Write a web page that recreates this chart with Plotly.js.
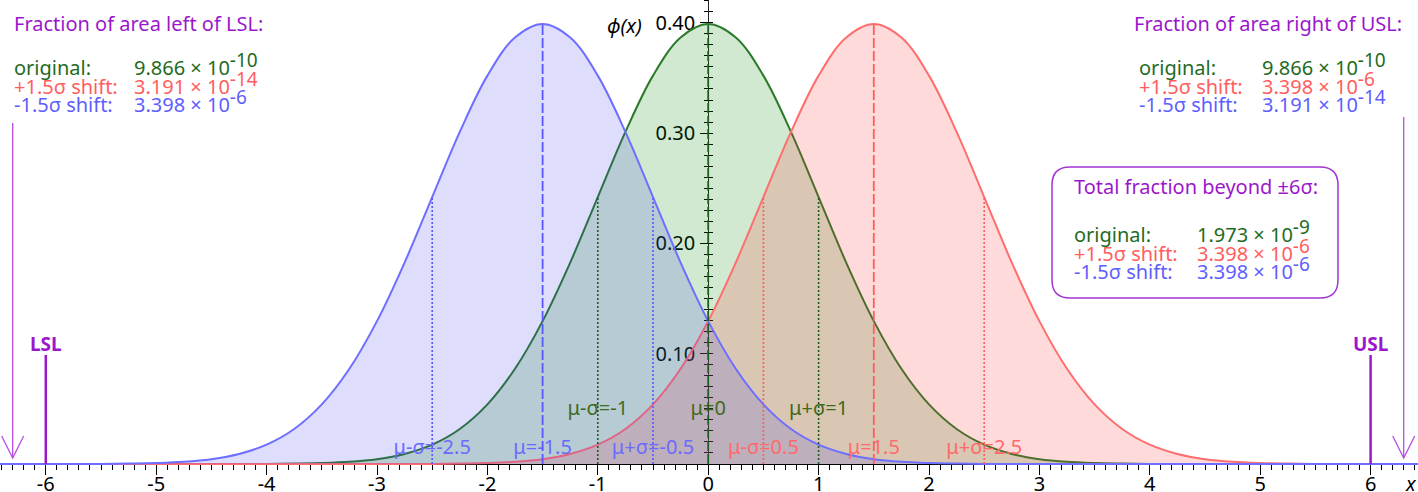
<!DOCTYPE html>
<html><head><meta charset="utf-8">
<script src="https://cdn.plot.ly/plotly-3.0.1.min.js"></script>
<style>html,body{margin:0;padding:0;background:#fff;}#chart{width:1418px;height:492px;}</style>
</head><body><div id="chart"></div>
<script>
// ---------------- data ----------------
const greenX = [-6.5,-4.5,-4.25,-4,-3.75,-3.5,-3.25,-3,-2.75,-2.5,-2.25,-2,-1.75,-1.5,-1.25,-1,-0.75,-0.5,-0.25,0,0.25,0.5,0.75,1,1.25,1.5,1.75,2,2.25,2.5,2.75,3,3.25,3.5,3.75,4,4.25,4.5,6.5];
const greenY = [0,0,0.0001,0.0001,0.0004,0.0009,0.0020,0.0044,0.0091,0.0175,0.0317,0.0540,0.0863,0.1295,0.1826,0.2420,0.3011,0.3521,0.3867,0.3989,0.3867,0.3521,0.3011,0.2420,0.1826,0.1295,0.0863,0.0540,0.0317,0.0175,0.0091,0.0044,0.0020,0.0009,0.0004,0.0001,0.0001,0,0];
const redX = [-6.5,-3,-2.75,-2.5,-2.25,-2,-1.75,-1.5,-1.25,-1,-0.75,-0.5,-0.25,0,0.25,0.5,0.75,1,1.25,1.5,1.75,2,2.25,2.5,2.75,3,3.25,3.5,3.75,4,4.25,4.5,4.75,5,5.25,5.5,5.75,6,6.5];
const redY = [0,0,0.0001,0.0001,0.0004,0.0009,0.0020,0.0044,0.0091,0.0175,0.0317,0.0540,0.0863,0.1295,0.1826,0.2420,0.3011,0.3521,0.3867,0.3989,0.3867,0.3521,0.3011,0.2420,0.1826,0.1295,0.0863,0.0540,0.0317,0.0175,0.0091,0.0044,0.0020,0.0009,0.0004,0.0001,0.0001,0,0];
const blueX = [-6.5,-6,-5.75,-5.5,-5.25,-5,-4.75,-4.5,-4.25,-4,-3.75,-3.5,-3.25,-3,-2.75,-2.5,-2.25,-2,-1.75,-1.5,-1.25,-1,-0.75,-0.5,-0.25,0,0.25,0.5,0.75,1,1.25,1.5,1.75,2,2.25,2.5,2.75,3,6.5];
const blueY = [0,0,0.0001,0.0001,0.0004,0.0009,0.0020,0.0044,0.0091,0.0175,0.0317,0.0540,0.0863,0.1295,0.1826,0.2420,0.3011,0.3521,0.3867,0.3989,0.3867,0.3521,0.3011,0.2420,0.1826,0.1295,0.0863,0.0540,0.0317,0.0175,0.0091,0.0044,0.0020,0.0009,0.0004,0.0001,0.0001,0,0];

const seriesMeans = [0, 1.5, -1.5];          // original, +1.5σ shift, -1.5σ shift
const sigma = 1;
const peakDensity = 0.399;
const sigmaDensity = 0.242;
const specLimits = [-6, 6];                  // LSL, USL
const specNames = ['LSL', 'USL'];

const greenLabels = ['μ-σ=-1', 'μ=0', 'μ+σ=1'];
const redLabels = ['μ-σ=0.5', 'μ=1.5', 'μ+σ=2.5'];
const blueLabels = ['μ-σ=-2.5', 'μ=-1.5', 'μ+σ=-0.5'];

const xTickVals = [-6,-5,-4,-3,-2,-1,0,1,2,3,4,5,6];
const xTickLabels = ['-6','-5','-4','-3','-2','-1','0','1','2','3','4','5','6'];
const yTickVals = [0.1,0.2,0.3,0.4];
const yTickLabels = ['0.10','0.20','0.30','0.40'];

const rowLabels = ['original:', '+1.5σ shift:', '-1.5σ shift:'];
const leftMantissa = ['9.866','3.191','3.398'];
const leftExp = ['-10','-14','-6'];
const rightMantissa = ['9.866','3.398','3.191'];
const rightExp = ['-10','-6','-14'];
const totalMantissa = ['1.973','3.398','3.398'];
const totalExp = ['-9','-6','-6'];

// ---------------- styling ----------------
const FONT = 'Noto Sans, Open Sans, DejaVu Sans, sans-serif';
const GREEN_LINE = '#2b7a2b', RED_LINE = '#ff6e6e', BLUE_LINE = '#6e6eff';
const GREEN_FILL = 'rgba(0,128,0,0.18)', RED_FILL = 'rgba(255,50,50,0.18)', BLUE_FILL = 'rgba(60,60,240,0.17)';
const GREEN_TXT = '#1f6b1f', RED_TXT = '#ff5e5e', BLUE_TXT = '#5e5eff';
const GREEN_LBL = '#3e6a20', RED_LBL = '#ff6a6a', BLUE_LBL = '#6a6aff';
const PURPLE = '#9b17cc', PURPLE_LIGHT = '#b54ee3';
const rowColors = [GREEN_TXT, RED_TXT, BLUE_TXT];

// pixel -> data helpers for layout placement
const PXU = 110.4, X0 = 708.2, PYU = 1103, Y0 = 464;
const dx = px => (px - X0) / PXU;
const dy = py => (Y0 - py) / PYU;

// ---------------- traces ----------------
const traces = [];
function curve(x, y, line, fill) {
  return {x, y, type:'scatter', mode:'lines', fill:'tozeroy', fillcolor:fill,
          line:{color:line, width:2, shape:'spline', smoothing:1}, hoverinfo:'skip'};
}
traces.push(curve(greenX, greenY, GREEN_LINE, GREEN_FILL));
traces.push(curve(redX, redY, RED_LINE, RED_FILL));
traces.push(curve(blueX, blueY, BLUE_LINE, BLUE_FILL));

function labelTrace(mu, labels, color, y) {
  return {x:[mu - sigma, mu, mu + sigma], y:[y, y, y], text:labels, type:'scatter', mode:'text',
          textposition:'middle center', cliponaxis:false,
          textfont:{family:FONT, size:20, color}, hoverinfo:'skip'};
}
traces.push(labelTrace(seriesMeans[2], blueLabels, BLUE_LBL, dy(449)));
traces.push(labelTrace(seriesMeans[1], redLabels, RED_LBL, dy(449)));
traces.push(labelTrace(seriesMeans[0], greenLabels, GREEN_LBL, dy(410)));

function markerLines(mu, color) {
  traces.push({x:[mu - sigma, mu - sigma, null, mu + sigma, mu + sigma], y:[0, sigmaDensity, null, 0, sigmaDensity],
               type:'scatter', mode:'lines', line:{color, width:1.6, dash:'2px,2px'}, hoverinfo:'skip'});
  traces.push({x:[mu, mu], y:[0, peakDensity], type:'scatter', mode:'lines',
               line:{color, width:1.8, dash:'10px,3px'}, hoverinfo:'skip'});
}
markerLines(seriesMeans[2], '#5858ff');
markerLines(seriesMeans[1], '#ff5e5e');
markerLines(seriesMeans[0], '#1e5e1e');
// empty trace to carry the inner-tick overlay axis
traces.push({x:[], y:[], type:'scatter', mode:'lines', yaxis:'y2', hoverinfo:'skip', showlegend:false});

// ---------------- annotations ----------------
const annotations = [];
const DESC = 6;
function txt(px, basePy, text, color, anchor, size, extra) {
  annotations.push(Object.assign({xref:'x', yref:'y', x:dx(px), y:dy(basePy + DESC), xanchor:anchor || 'left',
    yanchor:'bottom', text, showarrow:false, borderpad:0,
    font:{family:FONT, size:size || 20, color}}, extra || {}));
}
function val(m, e) { return m + ' × 10<sup><span style="font-size:19px">' + e + '</span></sup>'; }

txt(13, 32, 'Fraction of area left of LSL:', PURPLE);
txt(1403, 32, 'Fraction of area right of USL:', PURPLE, 'right');
const rowBase = [76, 94.5, 113];
for (let i = 0; i < 3; i++) {
  txt(13, rowBase[i], rowLabels[i], rowColors[i]);
  txt(133, rowBase[i], val(leftMantissa[i], leftExp[i]), rowColors[i]);
  txt(1138, rowBase[i], rowLabels[i], rowColors[i]);
  txt(1261, rowBase[i], val(rightMantissa[i], rightExp[i]), rowColors[i]);
}
txt(1073, 195, 'Total fraction beyond ±6σ:', PURPLE);
const boxBase = [243, 261.5, 280];
for (let i = 0; i < 3; i++) {
  txt(1073, boxBase[i], rowLabels[i], rowColors[i]);
  txt(1196, boxBase[i], val(totalMantissa[i], totalExp[i]), rowColors[i]);
}
for (let i = 0; i < 2; i++) {
  annotations.push({xref:'x', yref:'y', x:specLimits[i], y:dy(352 + DESC), xanchor:'center', yanchor:'bottom',
    text:'<b>' + specNames[i] + '</b>', showarrow:false, borderpad:0, font:{family:FONT, size:19, color:PURPLE}});
}
annotations.push({xref:'x', yref:'y', x:dx(643), y:dy(25), xanchor:'right', yanchor:'middle', text:'<i>ϕ(x)</i>',
  showarrow:false, borderpad:0, font:{family:FONT, size:20, color:'#000'}});
annotations.push({xref:'paper', yref:'paper', x:1411 / 1418, y:(465 - 483) / 465, xanchor:'center', yanchor:'middle',
  text:'<i>x</i>', showarrow:false, borderpad:0, font:{family:FONT, size:20, color:'#000'}});

// ---------------- shapes ----------------
const shapes = [];
for (let i = 0; i < 2; i++) {
  shapes.push({type:'line', xref:'x', yref:'y', x0:specLimits[i], x1:specLimits[i], y0:0, y1:dy(355),
               line:{color:PURPLE, width:2.5}});
}
const arrowX = [-6.3, 6.3], arrowTop = [123, 117];
const vHalf = 11 / PXU, vH = 22 / PYU, tipY = dy(458);
for (let i = 0; i < 2; i++) {
  shapes.push({type:'line', xref:'x', yref:'y', x0:arrowX[i], x1:arrowX[i], y0:dy(arrowTop[i]), y1:tipY,
               line:{color:PURPLE_LIGHT, width:1.3}});
  shapes.push({type:'path', xref:'x', yref:'y', line:{color:PURPLE_LIGHT, width:1.3},
    path:'M' + (arrowX[i] - vHalf) + ',' + (tipY + vH) + ' L' + arrowX[i] + ',' + tipY + ' L' + (arrowX[i] + vHalf) + ',' + (tipY + vH)});
}
(function(){
  const L = dx(1052), R = dx(1338), T = dy(167), B = dy(298), rx = 18 / PXU, ry = 18 / PYU;
  const p = 'M' + (L + rx) + ',' + T + ' L' + (R - rx) + ',' + T + ' Q' + R + ',' + T + ' ' + R + ',' + (T - ry) +
    ' L' + R + ',' + (B + ry) + ' Q' + R + ',' + B + ' ' + (R - rx) + ',' + B +
    ' L' + (L + rx) + ',' + B + ' Q' + L + ',' + B + ' ' + L + ',' + (B + ry) +
    ' L' + L + ',' + (T - ry) + ' Q' + L + ',' + T + ' ' + (L + rx) + ',' + T + ' Z';
  shapes.push({type:'path', xref:'x', yref:'y', path:p, line:{color:'#a335d4', width:1.5}, fillcolor:'rgba(0,0,0,0)'});
})();

// ---------------- layout ----------------
const xMin = dx(0), xMax = dx(1418);
const yMin = dy(465), yMax = dy(0);
const yPos = (0 - xMin) / (xMax - xMin);
const layout = {
  width:1418, height:492, margin:{l:0, r:0, t:0, b:27},
  paper_bgcolor:'#fff', plot_bgcolor:'#fff', showlegend:false,
  font:{family:FONT, size:20, color:'#000'},
  xaxis:{range:[xMin, xMax], showgrid:false, zeroline:false, showline:true, linecolor:'#000', linewidth:1,
    ticks:'outside', ticklen:10, tickwidth:1, tickcolor:'#000', tickmode:'array', tickvals:xTickVals, ticktext:xTickLabels,
    tickfont:{family:FONT, size:20, color:'#000'}, ticklabelstandoff:-8,
    minor:{tickmode:'linear', tick0:0, dtick:0.1, ticks:'outside', ticklen:5, tickcolor:'#000', tickwidth:1, showgrid:false},
    anchor:'free', position:(0 - yMin) / (yMax - yMin), layer:'below traces', fixedrange:true},
  yaxis:{range:[yMin, yMax], showgrid:false, zeroline:false, showline:true, linecolor:'#222', linewidth:1.2,
    ticks:'outside', ticklen:8, tickwidth:1, tickcolor:'#000', tickmode:'array', tickvals:yTickVals, ticktext:yTickLabels,
    tickfont:{family:FONT, size:20, color:'#000'}, ticklabelstandoff:1,
    minor:{tickmode:'linear', tick0:0, dtick:0.01, ticks:'outside', ticklen:4, tickcolor:'#000', tickwidth:1, showgrid:false},
    anchor:'free', position:yPos, layer:'below traces', fixedrange:true},
  yaxis2:{overlaying:'y', range:[yMin, yMax], showgrid:false, zeroline:false, showline:false, showticklabels:false,
    ticks:'inside', ticklen:4, tickwidth:1, tickcolor:'#000', tickmode:'array', tickvals:yTickVals,
    minor:{tickmode:'linear', tick0:0, dtick:0.01, ticks:'inside', ticklen:4, tickcolor:'#000', tickwidth:1, showgrid:false},
    anchor:'free', position:yPos, side:'left', layer:'below traces', fixedrange:true},
  annotations, shapes
};
Plotly.newPlot('chart', traces, layout, {displayModeBar:false, staticPlot:true});
</script></body></html>
